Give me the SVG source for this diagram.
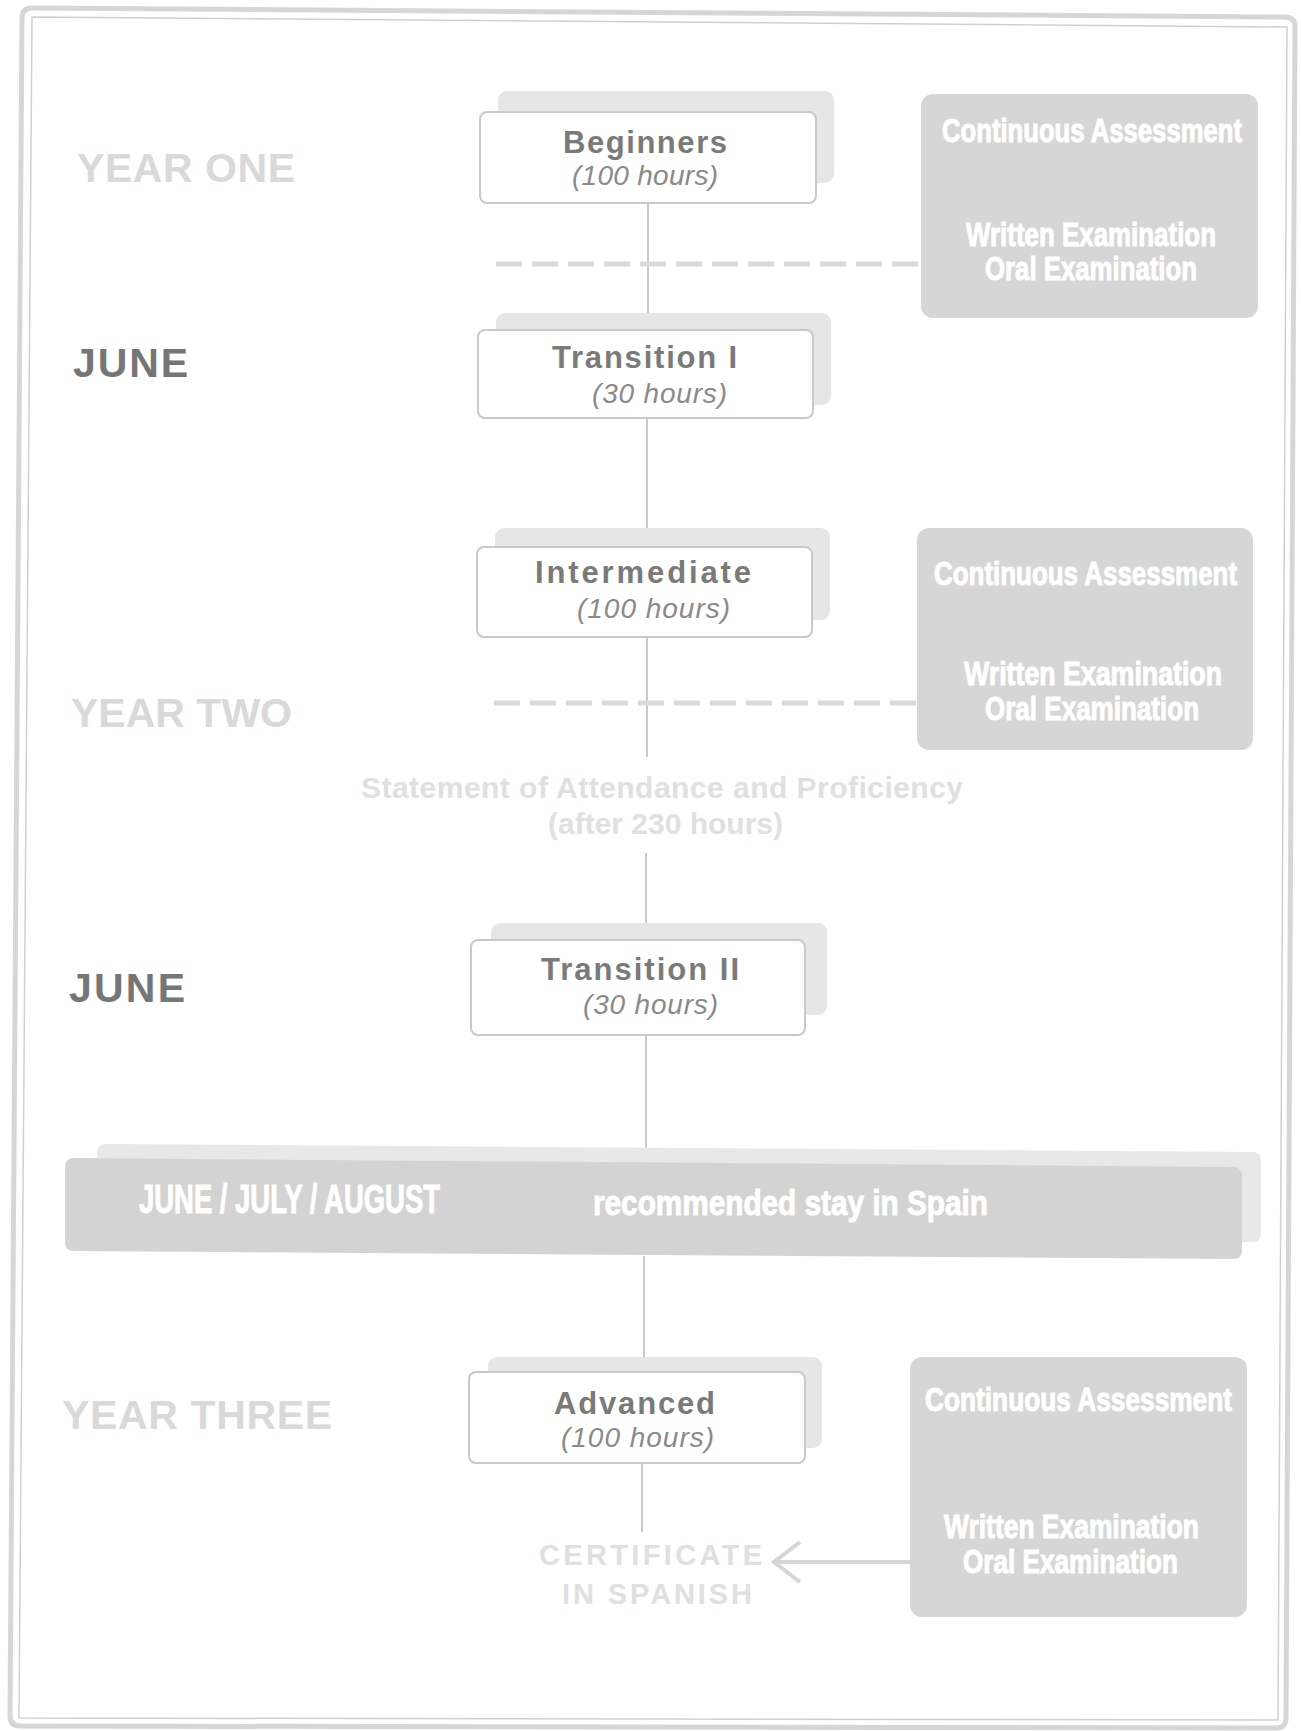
<svg xmlns="http://www.w3.org/2000/svg" width="1301" height="1731" viewBox="0 0 1301 1731">
<style>
  text { font-family: "Liberation Sans", Arial, sans-serif; }
  .frameO { fill: none; stroke: #d6d6d6; stroke-width: 5; }
  .frameI { fill: none; stroke: #d0d0d0; stroke-width: 1.5; }
  .shadow { fill: #e6e6e6; }
  .box { fill: #ffffff; stroke: #c9c9c9; stroke-width: 2; }
  .assess { fill: #d6d6d6; }
  .title { font-weight: bold; font-size: 31px; fill: #7a7a7a; }
  .sub { font-style: italic; font-size: 28px; fill: #8a8a8a; }
  .year { font-weight: bold; font-size: 41px; fill: #d9d9d9; }
  .june { font-weight: bold; font-size: 41px; fill: #767676; }
  .aw { font-weight: bold; font-size: 33px; fill: #ffffff; stroke: #ffffff; stroke-width: 1; }
  .bw { font-weight: bold; fill: #ffffff; stroke: #ffffff; stroke-width: 1; }
  .stmt { font-weight: bold; font-size: 30px; fill: #e0e0e0; }
  .cert { font-weight: bold; font-size: 29px; fill: #e0e0e0; }
  .line { fill: none; stroke: #cacaca; stroke-width: 2; }
  .dash { fill: none; stroke: #dadada; stroke-width: 5; stroke-dasharray: 26 10; }
  .arrow { fill: none; stroke: #d6d6d6; stroke-width: 4; }
</style>
<defs>
  <marker id="chev" viewBox="0 0 32 46" refX="29" refY="23" markerWidth="32" markerHeight="46" markerUnits="userSpaceOnUse" orient="auto">
    <path d="M 3 3 L 29 23 L 3 43" fill="none" stroke="#d6d6d6" stroke-width="4"/>
  </marker>
</defs>
<rect x="0" y="0" width="1301" height="1731" fill="#ffffff"/>

<g id="frame">
  <path class="frameO" d="M 22,18 Q 22,8 32,8 L 1285,17 Q 1295,17 1295,27 L 1286,1718 Q 1286,1728 1276,1728 L 20,1726 Q 10,1726 10,1716 Z"/>
  <path class="frameI" d="M 32,17 L 1287,27 L 1278,1720 L 19,1718 Z"/>
</g>

<g id="connectors">
  <line class="line" x1="648" y1="200" x2="648" y2="332"/>
  <line class="line" x1="647" y1="416" x2="647" y2="549"/>
  <line class="line" x1="647" y1="636" x2="647" y2="757"/>
  <line class="line" x1="646" y1="853" x2="646" y2="942"/>
  <line class="line" x1="646" y1="1033" x2="646" y2="1150"/>
  <line class="line" x1="644" y1="1256" x2="644" y2="1374"/>
  <line class="line" x1="642" y1="1461" x2="642" y2="1532"/>
  <line class="dash" x1="496" y1="264" x2="924" y2="264"/>
  <line class="dash" x1="494" y1="703" x2="920" y2="703"/>
  <line class="arrow" x1="938" y1="1562" x2="774" y2="1562" marker-end="url(#chev)"/>
</g>

<g id="label-year-one"><text class="year" x="77" y="182" textLength="218" lengthAdjust="spacing">YEAR ONE</text></g>
<g id="label-june-1"><text class="june" x="73" y="377" textLength="115" lengthAdjust="spacing">JUNE</text></g>
<g id="label-year-two"><text class="year" x="71" y="727" textLength="221" lengthAdjust="spacing">YEAR TWO</text></g>
<g id="label-june-2"><text class="june" x="69" y="1002" textLength="116" lengthAdjust="spacing">JUNE</text></g>
<g id="label-year-three"><text class="year" x="62" y="1429" textLength="270" lengthAdjust="spacing">YEAR THREE</text></g>

<g id="node-beginners">
  <rect class="shadow" x="498" y="91" width="336" height="92" rx="9"/>
  <rect class="box" x="480" y="112" width="336" height="91" rx="7"/>
  <text class="title" x="563" y="153" textLength="164" lengthAdjust="spacing">Beginners</text>
  <text class="sub" x="572" y="185" textLength="146" lengthAdjust="spacing">(100 hours)</text>
</g>

<g id="node-transition-1">
  <rect class="shadow" x="496" y="313" width="335" height="92" rx="9"/>
  <rect class="box" x="478" y="330" width="335" height="88" rx="7"/>
  <text class="title" x="552" y="368" textLength="185" lengthAdjust="spacing">Transition I</text>
  <text class="sub" x="592" y="403" textLength="135" lengthAdjust="spacing">(30 hours)</text>
</g>

<g id="node-intermediate">
  <rect class="shadow" x="495" y="528" width="335" height="92" rx="9"/>
  <rect class="box" x="477" y="547" width="335" height="90" rx="7"/>
  <text class="title" x="535" y="583" textLength="216" lengthAdjust="spacing">Intermediate</text>
  <text class="sub" x="577" y="618" textLength="153" lengthAdjust="spacing">(100 hours)</text>
</g>

<g id="node-statement">
  <text class="stmt" x="361" y="798" textLength="602" lengthAdjust="spacing">Statement of Attendance and Proficiency</text>
  <text class="stmt" x="548" y="834" textLength="235" lengthAdjust="spacing">(after 230 hours)</text>
</g>

<g id="node-transition-2">
  <rect class="shadow" x="491" y="923" width="336" height="92" rx="9"/>
  <rect class="box" x="471" y="940" width="334" height="95" rx="7"/>
  <text class="title" x="541" y="980" textLength="198" lengthAdjust="spacing">Transition II</text>
  <text class="sub" x="583" y="1014" textLength="135" lengthAdjust="spacing">(30 hours)</text>
</g>

<g id="node-summer">
  <path d="M 106,1144 L 1252,1152 Q 1261,1152 1261,1161 L 1261,1233 Q 1261,1242 1252,1242 L 106,1236 Q 97,1236 97,1227 L 97,1153 Q 97,1144 106,1144 Z" fill="#e8e8e8"/>
  <path d="M 74,1158 L 1233,1167 Q 1242,1167 1242,1176 L 1242,1250 Q 1242,1259 1233,1259 L 74,1251 Q 65,1251 65,1242 L 65,1167 Q 65,1158 74,1158 Z" fill="#d3d3d3"/>
  <text class="bw" transform="translate(139,1213) scale(0.68,1)" x="0" y="0" font-size="40" textLength="442.6" lengthAdjust="spacingAndGlyphs">JUNE / JULY / AUGUST</text>
  <text class="bw" transform="translate(593,1215) scale(0.83,1)" x="0" y="0" font-size="36" textLength="475.9" lengthAdjust="spacingAndGlyphs">recommended stay in Spain</text>
</g>

<g id="node-advanced">
  <rect class="shadow" x="488" y="1357" width="334" height="91" rx="9"/>
  <rect class="box" x="469" y="1372" width="336" height="91" rx="7"/>
  <text class="title" x="554" y="1414" textLength="161" lengthAdjust="spacing">Advanced</text>
  <text class="sub" x="561" y="1447" textLength="153" lengthAdjust="spacing">(100 hours)</text>
</g>

<g id="node-certificate">
  <text class="cert" x="539" y="1565" textLength="223" lengthAdjust="spacing">CERTIFICATE</text>
  <text class="cert" x="562" y="1604" textLength="190" lengthAdjust="spacing">IN SPANISH</text>
</g>

<g id="node-assessment-1">
  <rect class="assess" x="921" y="94" width="337" height="224" rx="12"/>
  <text class="aw" transform="translate(942,142) scale(0.78,1)" x="0" y="0" textLength="384.6" lengthAdjust="spacingAndGlyphs">Continuous Assessment</text>
  <text class="aw" transform="translate(966,246) scale(0.78,1)" x="0" y="0" textLength="320.5" lengthAdjust="spacingAndGlyphs">Written Examination</text>
  <text class="aw" transform="translate(985,280) scale(0.78,1)" x="0" y="0" textLength="271.8" lengthAdjust="spacingAndGlyphs">Oral Examination</text>
</g>

<g id="node-assessment-2">
  <rect class="assess" x="917" y="528" width="336" height="222" rx="12"/>
  <text class="aw" transform="translate(934,585) scale(0.78,1)" x="0" y="0" textLength="388.5" lengthAdjust="spacingAndGlyphs">Continuous Assessment</text>
  <text class="aw" transform="translate(964,685) scale(0.78,1)" x="0" y="0" textLength="330.8" lengthAdjust="spacingAndGlyphs">Written Examination</text>
  <text class="aw" transform="translate(985,720) scale(0.78,1)" x="0" y="0" textLength="274.4" lengthAdjust="spacingAndGlyphs">Oral Examination</text>
</g>

<g id="node-assessment-3">
  <rect class="assess" x="910" y="1357" width="337" height="260" rx="12"/>
  <text class="aw" transform="translate(925,1411) scale(0.78,1)" x="0" y="0" textLength="393.6" lengthAdjust="spacingAndGlyphs">Continuous Assessment</text>
  <text class="aw" transform="translate(944,1538) scale(0.78,1)" x="0" y="0" textLength="326.9" lengthAdjust="spacingAndGlyphs">Written Examination</text>
  <text class="aw" transform="translate(963,1573) scale(0.78,1)" x="0" y="0" textLength="275.6" lengthAdjust="spacingAndGlyphs">Oral Examination</text>
</g>
</svg>
